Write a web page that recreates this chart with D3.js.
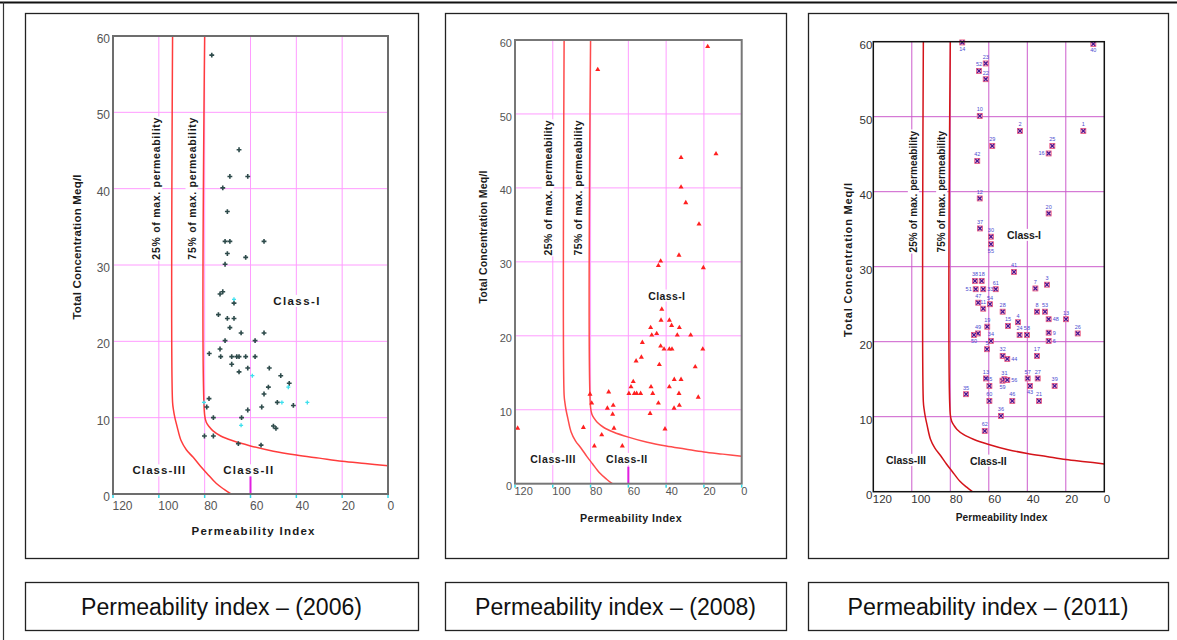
<!DOCTYPE html>
<html lang="en">
<head>
<meta charset="UTF-8">
<title>Permeability index</title>
<script src="https://cdn.jsdelivr.net/npm/d3@7"></script>
<style>
  body { margin: 0; background: #fff; }
  svg { display: block; font-family: 'Liberation Sans', Arial, sans-serif; }
  .caption { font-family: 'Liberation Sans Narrow', 'Liberation Sans', Arial, sans-serif; }
</style>
</head>
<body>
<svg id="chart" width="1177" height="640"></svg>
<script>
// ---- data ----
var captionText = ["Permeability index \u2013 (2006)", "Permeability index \u2013 (2008)", "Permeability index \u2013 (2011)"];

var piTicks = [120, 100, 80, 60, 40, 20, 0];
var tcTicks = [0, 10, 20, 30, 40, 50, 60];
var piGrid = [100, 80, 60, 40, 20];
var tcGrid = [10, 20, 30, 40, 50];

var classNames = ["Class-I", "Class-II", "Class-III"];
var lineNames = ["25% of max. permeability", "75% of max. permeability"];

// Doneen boundary lines (PI, total concentration)
var bound75PI = [80, 80, 79.3, 78, 76.5, 73, 68, 60, 50, 40, 30, 20, 10, 0];
var bound75TC = [60, 10.3, 9.4, 8.8, 8.3, 7.6, 7.0, 6.3, 5.6, 5.1, 4.7, 4.3, 4.0, 3.7];
var bound25PI = [94, 94, 93.6, 93, 92, 90.3, 88, 85, 82, 79, 75, 71.5, 68.5];
var bound25TC = [60, 12, 11, 10, 8.8, 7.0, 5.8, 4.8, 3.7, 2.7, 1.4, 0.6, 0];

// 2006 samples (dark) and second set (cyan)
var pi2006 = [76.9, 65, 69, 61.2, 72.1, 70.1, 71.1, 69, 54.1, 70.1, 62.1, 71.1, 73.3, 72.1, 67.2, 74, 70.1, 67.2, 69, 64.1,
              54.1, 71.1, 58, 78, 73.3, 73, 68.2, 66, 65, 62.1, 58, 68.2, 65, 61.2, 51.8, 46.8, 52.2, 43.1, 54.1, 78.1,
              79.1, 55.1, 48.3, 41.3, 61.2, 76.2, 63.9, 50, 48.9, 80.1, 76.2, 65.3, 55.4];
var tc2006 = [57.5, 45.1, 41.6, 41.6, 40.1, 37.0, 33.1, 33.1, 33.1, 31.5, 31.0, 30.1, 26.2, 26.5, 25.0, 23.5, 23.0, 23.0, 21.8, 21.1,
              21.1, 20.1, 20.1, 18.4, 19.0, 18.0, 18.0, 18.0, 18.0, 18.0, 18.0, 17.0, 16.0, 16.5, 16.5, 15.5, 14.0, 14.5, 13.1, 12.5,
              11.4, 11.4, 12.0, 11.6, 11.0, 10.0, 10.0, 8.9, 8.6, 7.6, 7.6, 6.6, 6.4];
var pi2006b = [67.2, 59.2, 43.5, 80.3, 46.3, 35.2, 64.1];
var tc2006b = [25.5, 15.5, 14.0, 12.0, 12.0, 12.0, 9.0];

// 2008 samples
var pi2008 = [18, 76.2, 32.1, 13.6, 32.1, 29.6, 22.6, 33.2, 44.1, 42.9, 20.3,
              118.6, 42.3, 42.7, 38.3, 37.1, 33.0, 48.2, 47.6, 45.0, 34.1, 27.0, 52.6, 42.9, 41.1, 38.3, 36.9, 20.6, 53.1, 55.9, 43.6,
              24.6, 57.4, 58.6, 48, 38.3, 35.7, 32.1, 59.7, 56.8, 55.6, 53.5, 47.1, 33.2, 23.0, 70.4, 80.3, 79.4, 44.1, 33.0, 68,
              71.1, 35.8, 48.5, 68.3, 67.6, 40.6, 83.8, 74.1, 78, 63.2];
var tc2008 = [59.1, 56.0, 44.1, 44.6, 40.1, 38.0, 35.1, 30.9, 29.5, 30.1, 29.2,
              7.5, 23.6, 22.1, 22.1, 21.4, 21.1, 21.1, 20.1, 20.3, 20.1, 20.1, 19.1, 18.6, 18.2, 18.2, 18.2, 18.2, 17.1, 16.6, 16.1,
              15.8, 13.8, 13.1, 13.1, 13.1, 14.1, 14.1, 12.2, 12.2, 12.2, 12.2, 12.2, 12.2, 11.7, 12.4, 12.1, 10.9, 10.9, 10.6, 10.6,
              10.2, 10.2, 9.5, 9.4, 7.5, 7.4, 7.6, 6.6, 5.1, 5.1];

// 2011 samples with well numbers
var id2011 = ["14", "40", "23", "52", "22", "10", "2", "1", "29", "25", "16", "42", "12", "20", "37", "30", "55", "41", "38", "18",
              "51", "33", "61", "7", "3", "47", "11", "54", "28", "8", "53", "48", "13", "4", "15", "19", "49", "50", "24", "58",
              "9", "26", "34", "6", "5", "32", "44", "17", "13", "45", "59", "31", "56", "57", "27", "43", "39", "35", "60", "46",
              "21", "36", "62"];
var pi2011 = [73.8, 5.7, 61.6, 65.1, 61.6, 64.7, 43.8, 10.9, 58.2, 27.0, 28.9, 66, 64.7, 28.9, 64.6, 58.9, 58.9, 46.9, 67.2, 63.7,
              66.8, 62.9, 56.4, 35.8, 29.8, 65.5, 62.9, 59.4, 52.8, 35, 30.8, 28.9, 19.9, 44.8, 50, 60.8, 65.6, 67.7, 44, 40.2,
              28.9, 13.8, 58.9, 28.9, 60.9, 52.8, 50.4, 35, 61.5, 59.7, 52.9, 51.9, 50.4, 39.8, 34.6, 38.6, 25.8, 71.8, 59.7, 47.8,
              33.9, 53.7, 62.1];
var tc2011 = [59.9, 59.7, 57.1, 56.1, 55.0, 50.1, 48.1, 48.1, 46.1, 46.1, 45.1, 44.1, 39.1, 37.1, 35.1, 34.0, 33.0, 29.3, 28.1, 28.1,
              27.0, 27.0, 27.0, 27.1, 27.6, 25.2, 24.4, 25.0, 24.0, 24.0, 24.0, 23.0, 23.0, 22.6, 22.1, 22.0, 21.1, 20.9, 20.9, 20.9,
              21.2, 21.1, 20.1, 20.1, 19.0, 18.1, 17.7, 18.1, 15.1, 14.1, 14.8, 15.0, 14.9, 15.1, 15.1, 14.1, 14.1, 13.0, 12.1, 12.1,
              12.1, 10.1, 8.1];
// side of the marker where each well number sits
var side2011 = ["b", "b", "t", "t", "t", "t", "t", "t", "t", "t", "l", "t", "t", "t", "t", "t", "b", "t", "t", "t",
                "l", "r", "t", "t", "t", "t", "t", "t", "t", "t", "t", "r", "t", "t", "t", "t", "t", "b", "t", "t",
                "r", "t", "t", "r", "t", "t", "r", "t", "t", "t", "b", "t", "r", "t", "t", "b", "t", "t", "t", "t",
                "t", "t", "t"];

// ---- layout of the three panels ----
var panels = [
  { box: [25, 13, 393, 545], plot: [113, 388, 494, 36],
    grid: "#ff9cff", frame: "#6d6d6d", curve: "#ff3c3c", tickFill: "#555", tickSize: 12, xPad: 7, yPad: 3,
    xTitle: [58.9, 535, 11.5, 123], yTitle: [77, 247, 11.5, 145],
    lineLbl: [[100.9, 85.6], 40, 10.5, 142],
    classLbl: [[40, 61, 100], [25.3, 3.1, 3.1], 11.5, [46, 50, 52.7]],
    cyanTicks: true },
  { box: [445, 13, 341, 545], plot: [515, 741.7, 483.7, 40],
    grid: "#ff9cff", frame: "#777", curve: "#ff4b4b", tickFill: "#555", tickSize: 11, xPad: 4, yPad: 3,
    xTitle: [58.7, 522, 10.7, 101.7], yTitle: [483.7, 237, 10.5, 133],
    lineLbl: [[102.5, 86.6], 40, 10.5, 135],
    classLbl: [[39.7, 60.9, 100], [25.4, 3.3, 3.3], 10.5, [36.7, 41.3, 45.3]],
    cyanTicks: true },
  { box: [808, 13, 360, 545], plot: [873.3, 1104.3, 491.7, 41.7],
    grid: "#cc5ccc", frame: "#111", curve: "#d4141a", tickFill: "#333", tickSize: 11.5, xPad: 3.5, yPad: 1,
    xTitle: [53.4, 521, 10.2, 91.7], yTitle: [848, 260, 11, 154],
    lineLbl: [[99.2, 84.5], 40, 10, 121.6],
    classLbl: [[41.7, 60.3, 103], [34.2, 4.1, 4.2], 10.5, [34, 36.7, 40]],
    cyanTicks: false }
];

var svg = d3.select("#chart");

// page frame
svg.append("line").attr("x1", 0).attr("x2", 1177).attr("y1", 2.5).attr("y2", 2.5)
  .attr("stroke", "#111").attr("stroke-width", 2);
svg.append("line").attr("x1", 3.5).attr("x2", 3.5).attr("y1", 2).attr("y2", 640)
  .attr("stroke", "#333").attr("stroke-width", 1.2);

// white-backed label, optionally rotated
function boxedText(g, x, y, txt, size, len, rot) {
  var gg = g.append("g").attr("transform", "translate(" + x + "," + y + ") rotate(" + (rot || 0) + ")");
  var bg = gg.append("rect").attr("fill", "#fff");
  var t = gg.append("text")
    .attr("text-anchor", "middle").attr("dy", "0.35em")
    .attr("font-size", size).attr("font-weight", "bold").attr("fill", "#1a1a1a")
    .attr("textLength", len)
    .text(txt);
  var bb = t.node().getBBox();
  bg.attr("x", bb.x - 1).attr("y", bb.y).attr("width", bb.width + 2).attr("height", bb.height);
  return gg;
}

panels.forEach(function(P, i) {
  var g = svg.append("g");

  // panel card and caption card
  g.append("rect").attr("x", P.box[0] + 0.5).attr("y", P.box[1] + 0.5)
    .attr("width", P.box[2]).attr("height", P.box[3])
    .attr("fill", "#fff").attr("stroke", "#222").attr("stroke-width", 1.3);
  g.append("rect").attr("x", P.box[0] + 0.5).attr("y", 582.5)
    .attr("width", P.box[2]).attr("height", 48)
    .attr("fill", "#fff").attr("stroke", "#222").attr("stroke-width", 1.3);
  g.append("text").attr("class", "caption")
    .attr("x", P.box[0] + P.box[2] / 2).attr("y", 615)
    .attr("text-anchor", "middle").attr("font-size", 23.5).attr("fill", "#111")
    .attr("textLength", 281).attr("lengthAdjust", "spacingAndGlyphs")
    .text(captionText[i]);

  var x = d3.scaleLinear().domain([120, 0]).range([P.plot[0], P.plot[1]]);
  var y = d3.scaleLinear().domain([0, 60]).range([P.plot[2], P.plot[3]]);

  // grid
  g.append("g").selectAll("line").data(piGrid).enter().append("line")
    .attr("x1", function(d) { return x(d); }).attr("x2", function(d) { return x(d); })
    .attr("y1", y(0)).attr("y2", y(60))
    .attr("stroke", P.grid).attr("stroke-width", 1);
  g.append("g").selectAll("line").data(tcGrid).enter().append("line")
    .attr("x1", x(120)).attr("x2", x(0))
    .attr("y1", function(d) { return y(d); }).attr("y2", function(d) { return y(d); })
    .attr("stroke", P.grid).attr("stroke-width", 1);

  // labels
  lineNames.forEach(function(name, k) {
    boxedText(g, x(P.lineLbl[0][k]), y(P.lineLbl[1]), name, P.lineLbl[2], P.lineLbl[3], -90);
  });
  classNames.forEach(function(name, k) {
    boxedText(g, x(P.classLbl[0][k]), y(P.classLbl[1][k]), name, P.classLbl[2], P.classLbl[3][k], 0);
  });

  // boundary curves
  var line = d3.line()
    .x(function(d) { return x(d[0]); })
    .y(function(d) { return y(d[1]); })
    .curve(d3.curveCatmullRom.alpha(0.5));
  [d3.zip(bound75PI, bound75TC), d3.zip(bound25PI, bound25TC)].forEach(function(pts) {
    g.append("path").attr("d", line(pts))
      .attr("fill", "none").attr("stroke", P.curve).attr("stroke-width", 1.5);
  });

  if (P.cyanTicks) {
    // short magenta bar at PI 60 near the base
    g.append("line").attr("x1", x(60)).attr("x2", x(60)).attr("y1", y(0)).attr("y2", y(2.3))
      .attr("stroke", "#e020e0").attr("stroke-width", 2);
  }

  // points
  var pg = g.append("g");
  if (i === 0) {
    pg.selectAll(".s1").data(d3.zip(pi2006, tc2006)).enter().append("path")
      .attr("transform", function(d) { return "translate(" + x(d[0]) + "," + y(d[1]) + ")"; })
      .attr("d", d3.symbol(d3.symbolCross, 13)).attr("fill", "#2e4b4b");
    pg.selectAll(".s2").data(d3.zip(pi2006b, tc2006b)).enter().append("path")
      .attr("transform", function(d) { return "translate(" + x(d[0]) + "," + y(d[1]) + ")"; })
      .attr("d", d3.symbol(d3.symbolCross, 9)).attr("fill", "#3fe0ee");
  } else if (i === 1) {
    pg.selectAll("path").data(d3.zip(pi2008, tc2008)).enter().append("path")
      .attr("transform", function(d) { return "translate(" + x(d[0]) + "," + y(d[1]) + ")"; })
      .attr("d", d3.symbol(d3.symbolTriangle, 11)).attr("fill", "#ff2020");
  } else {
    var rows = pi2011.map(function(p, k) { return { pi: p, tc: tc2011[k], id: id2011[k], side: side2011[k] }; });
    var m = pg.selectAll("g").data(rows).enter().append("g")
      .attr("transform", function(d) { return "translate(" + x(d.pi) + "," + y(d.tc) + ")"; });
    m.append("rect").attr("x", -2.5).attr("y", -2.5).attr("width", 5).attr("height", 5)
      .attr("fill", "#f7c6da").attr("stroke", "#e8507a").attr("stroke-width", 0.8);
    m.append("path").attr("d", "M-1.9,-1.9L1.9,1.9M-1.9,1.9L1.9,-1.9")
      .attr("stroke", "#4a1590").attr("stroke-width", 1.3);
    m.append("text")
      .attr("x", function(d) { return d.side === "r" ? 4 : d.side === "l" ? -4 : 0; })
      .attr("y", function(d) { return d.side === "t" ? -4.5 : d.side === "b" ? 8.5 : 2; })
      .attr("text-anchor", function(d) { return d.side === "r" ? "start" : d.side === "l" ? "end" : "middle"; })
      .attr("font-size", 5.5).attr("fill", "#4b4bd0")
      .text(function(d) { return d.id; });
  }

  // plot frame
  g.append("rect").attr("x", x(120)).attr("y", y(60))
    .attr("width", x(0) - x(120)).attr("height", y(0) - y(60))
    .attr("fill", "none").attr("stroke", P.frame).attr("stroke-width", i === 2 ? 1.5 : 2);

  if (P.cyanTicks) {
    g.append("g").selectAll("line").data(piTicks).enter().append("line")
      .attr("x1", function(d) { return x(d); }).attr("x2", function(d) { return x(d); })
      .attr("y1", y(0) + 1).attr("y2", y(0) + 4)
      .attr("stroke", "#30d8e8").attr("stroke-width", 1.5);
  }

  // axes
  var ax = g.append("g").attr("transform", "translate(0," + y(0) + ")")
    .call(d3.axisBottom(x).tickValues(piTicks).tickSize(0).tickPadding(P.xPad));
  ax.select(".domain").remove();
  ax.selectAll("text").attr("text-anchor", "start").attr("dx", -1)
    .attr("font-size", P.tickSize).attr("font-family", null).attr("fill", P.tickFill);

  var ay = g.append("g").attr("transform", "translate(" + x(120) + ",0)")
    .call(d3.axisLeft(y).tickValues(tcTicks).tickSize(0).tickPadding(P.yPad));
  ay.select(".domain").remove();
  ay.selectAll("text").attr("dy", "0.55em")
    .attr("font-size", P.tickSize).attr("font-family", null).attr("fill", P.tickFill);

  // axis titles
  g.append("text").attr("x", x(P.xTitle[0])).attr("y", P.xTitle[1])
    .attr("text-anchor", "middle").attr("font-size", P.xTitle[2]).attr("font-weight", "bold")
    .attr("fill", "#1a1a1a").attr("textLength", P.xTitle[3])
    .text("Permeability Index");
  g.append("text")
    .attr("transform", "translate(" + P.yTitle[0] + "," + P.yTitle[1] + ") rotate(-90)")
    .attr("text-anchor", "middle").attr("dy", "0.35em")
    .attr("font-size", P.yTitle[2]).attr("font-weight", "bold")
    .attr("fill", "#1a1a1a").attr("textLength", P.yTitle[3])
    .text("Total Concentration Meq/l");
});
</script>
</body>
</html>
